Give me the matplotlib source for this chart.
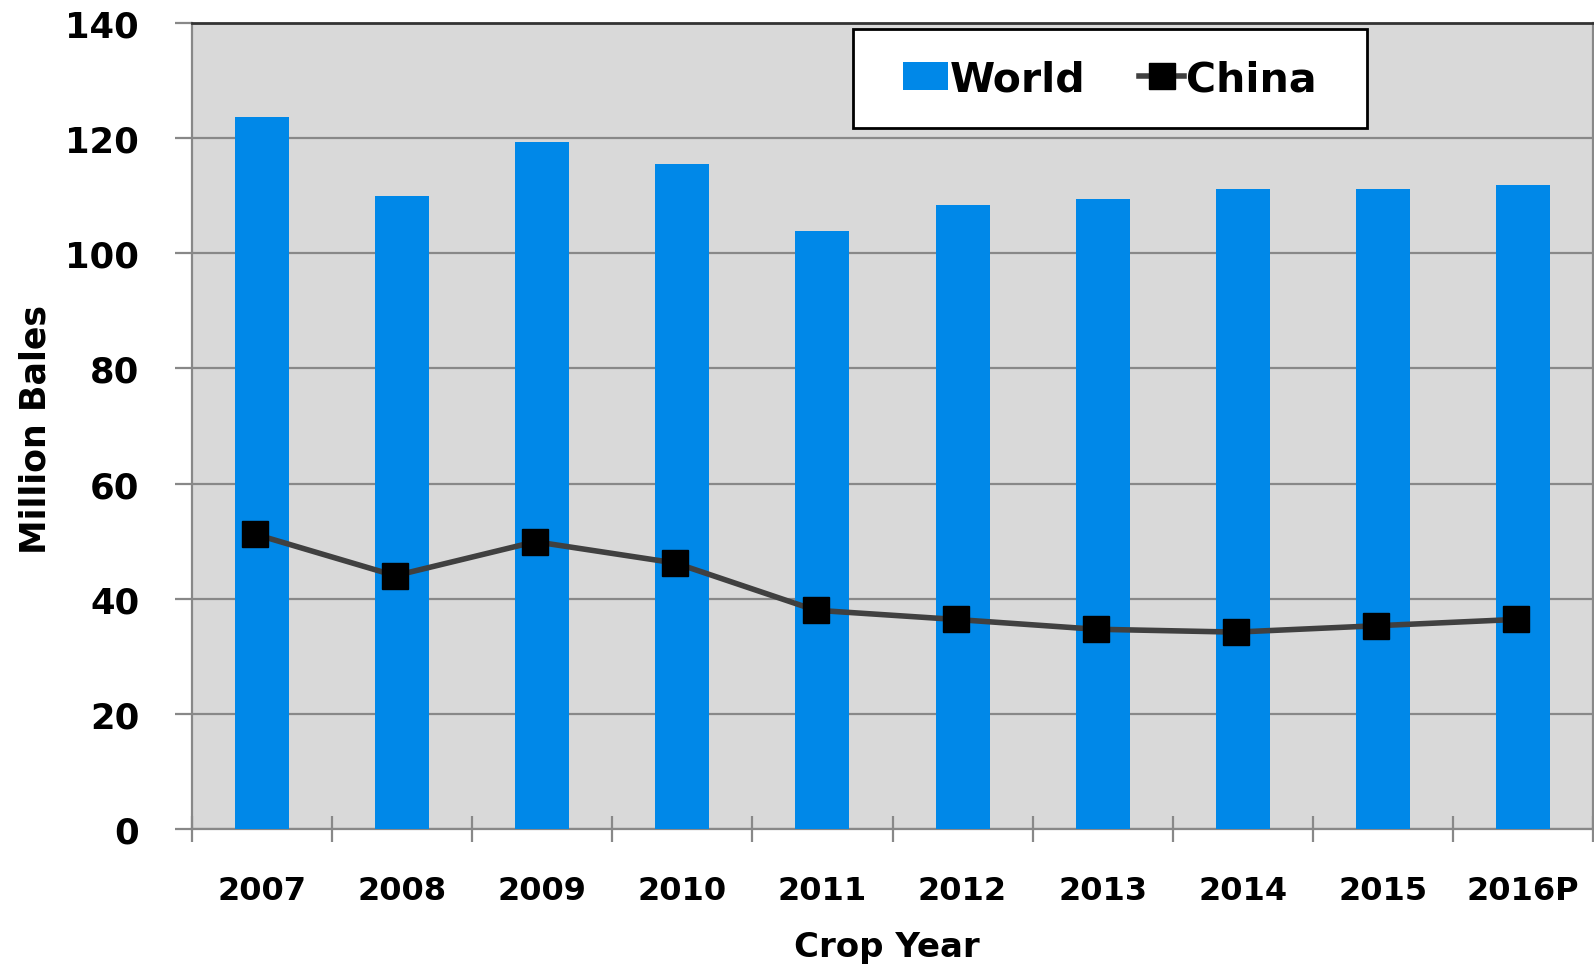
import matplotlib
matplotlib.use("Agg")
import matplotlib.pyplot as plt
import matplotlib.transforms as mtransforms
from matplotlib.patches import Rectangle
import numpy as np

# datos
years = ["2007", "2008", "2009", "2010", "2011", "2012", "2013", "2014", "2015", "2016P"]
world = [123.6, 110.0, 119.3, 115.5, 103.9, 108.4, 109.5, 111.2, 111.2, 111.8]
china = [51.2, 44.0, 49.9, 46.2, 38.0, 36.4, 34.7, 34.2, 35.3, 36.4]

plt.rcParams["font.family"] = ["DejaVu Sans"]
plt.rcParams["font.weight"] = "bold"

fig = plt.figure(figsize=(15.94, 9.70), dpi=100)
ax = fig.add_axes([192 / 1594, 140 / 970, 1401 / 1594, 806 / 970])
ax.set_facecolor("#d9d9d9")

x = np.arange(len(years))
barras = ax.bar(x, world, width=0.385, color="#0088e8", label="World", zorder=3)

# el marcador queda un poco a la izquierda del centro de la barra
tr = mtransforms.offset_copy(ax.transData, fig=fig, x=-5, y=0, units="points")
linea, = ax.plot(x, china, color="#404040", lw=4, marker="s", markersize=19,
                 markerfacecolor="black", markeredgecolor="black", label="China",
                 transform=tr, zorder=4)

ax.set_xlim(-0.5, len(years) - 0.5)
ax.set_ylim(0, 140)
ax.set_yticks(np.arange(0, 141, 20))
ax.yaxis.grid(True, color="#888888", lw=1.6, zorder=1)

# ticks entre categorias, etiquetas centradas
ax.set_xticks(np.arange(-0.5, len(years), 1))
ax.set_xticklabels([])
ax.set_xticks(x, minor=True)
ax.set_xticklabels(years, minor=True)
ax.tick_params(axis="x", which="major", direction="inout", length=19, width=1.6, color="#888888")
ax.tick_params(axis="x", which="minor", length=0, pad=33, labelsize=23)
ax.tick_params(axis="y", direction="out", length=12, width=1.6, color="#888888", pad=26, labelsize=25.5)

for s in ["left", "bottom", "right"]:
    ax.spines[s].set_color("#888888")
    ax.spines[s].set_linewidth(1.6)
ax.spines["top"].set_color("#333333")
ax.spines["top"].set_linewidth(2)

# caja de la leyenda
caja = Rectangle((0.4718, 0.8697), 0.3669, 0.1228, transform=ax.transAxes,
                 facecolor="white", edgecolor="black", lw=2, zorder=5)
ax.add_patch(caja)
leg = ax.legend([barras, linea], ["World", "China"], loc="center",
                bbox_to_anchor=(0.6552, 0.930), ncol=2, fontsize=29.5, frameon=False,
                handlelength=1.1, handletextpad=0.05, columnspacing=1.3, borderaxespad=0)
leg.set_zorder(6)

fig.text(887 / 1594, 1 - 948 / 970, "Crop Year", ha="center", va="center", fontsize=24.5, fontweight="bold")
fig.text(36 / 1594, 1 - 430 / 970, "Million Bales", ha="center", va="center", rotation=90,
         fontsize=25, fontweight="bold")

fig.savefig("out.png", dpi=100, facecolor="white")
